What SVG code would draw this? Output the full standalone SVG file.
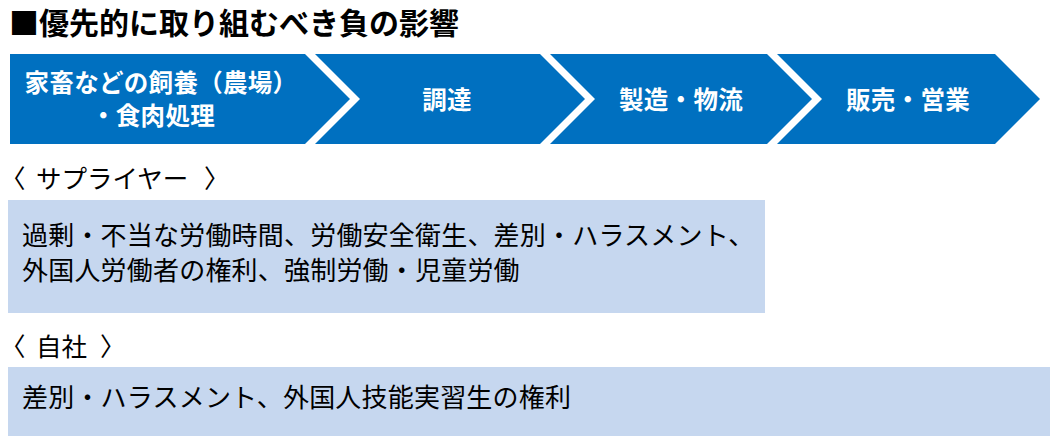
<svg xmlns="http://www.w3.org/2000/svg" width="1058" height="447" viewBox="0 0 1058 447">
<style>
.jp{font-family:"Noto Sans CJK JP","Noto Sans CJK SC",sans-serif;}
.title{font-size:30px;font-weight:bold;fill:#000;}
.chev{fill:#0070C0;}
.ct{font-size:24.5px;font-weight:bold;fill:#fff;text-anchor:middle;letter-spacing:0.3px;}
.lbl{font-size:25.5px;fill:#000;}
.box{fill:#C6D7EF;}
.bt{font-size:26px;fill:#000;letter-spacing:0.2px;}
</style>
<rect width="1058" height="447" fill="#fff"/>
<g id="title"><text class="jp title" x="9" y="34">■優先的に取り組むべき負の影響</text></g>
<g id="step1">
<polygon class="chev" points="10,54 305,54 350,99 305,144 10,144"/>
<text class="jp ct" x="161" y="91.5">家畜などの飼養（農場）</text>
<text class="jp ct" x="153" y="125">・食肉処理</text>
</g>
<g id="step2">
<polygon class="chev" points="315,54 540,54 585,99 540,144 315,144 360,99"/>
<text class="jp ct" x="447" y="109">調達</text>
</g>
<g id="step3">
<polygon class="chev" points="550,54 767,54 812,99 767,144 550,144 595,99"/>
<text class="jp ct" x="681" y="109">製造・物流</text>
</g>
<g id="step4">
<polygon class="chev" points="777,54 995,54 1040,99 995,144 777,144 822,99"/>
<text class="jp ct" x="908" y="109">販売・営業</text>
</g>
<g id="supplier">
<text class="jp lbl" y="187.5"><tspan x="0">〈</tspan><tspan x="36">サプライヤー</tspan><tspan x="204">〉</tspan></text>
<rect class="box" x="8" y="200" width="757" height="113"/>
<text class="jp bt" x="22" y="245">過剰・不当な労働時間、労働安全衛生、差別・ハラスメント、</text>
<text class="jp bt" x="22" y="280">外国人労働者の権利、強制労働・児童労働</text>
</g>
<g id="own">
<text class="jp lbl" y="355.5"><tspan x="0">〈</tspan><tspan x="36">自社</tspan><tspan x="100">〉</tspan></text>
<rect class="box" x="8" y="367" width="1042" height="69"/>
<text class="jp bt" x="22" y="407">差別・ハラスメント、外国人技能実習生の権利</text>
</g>
<g id="connectors"></g>
</svg>
